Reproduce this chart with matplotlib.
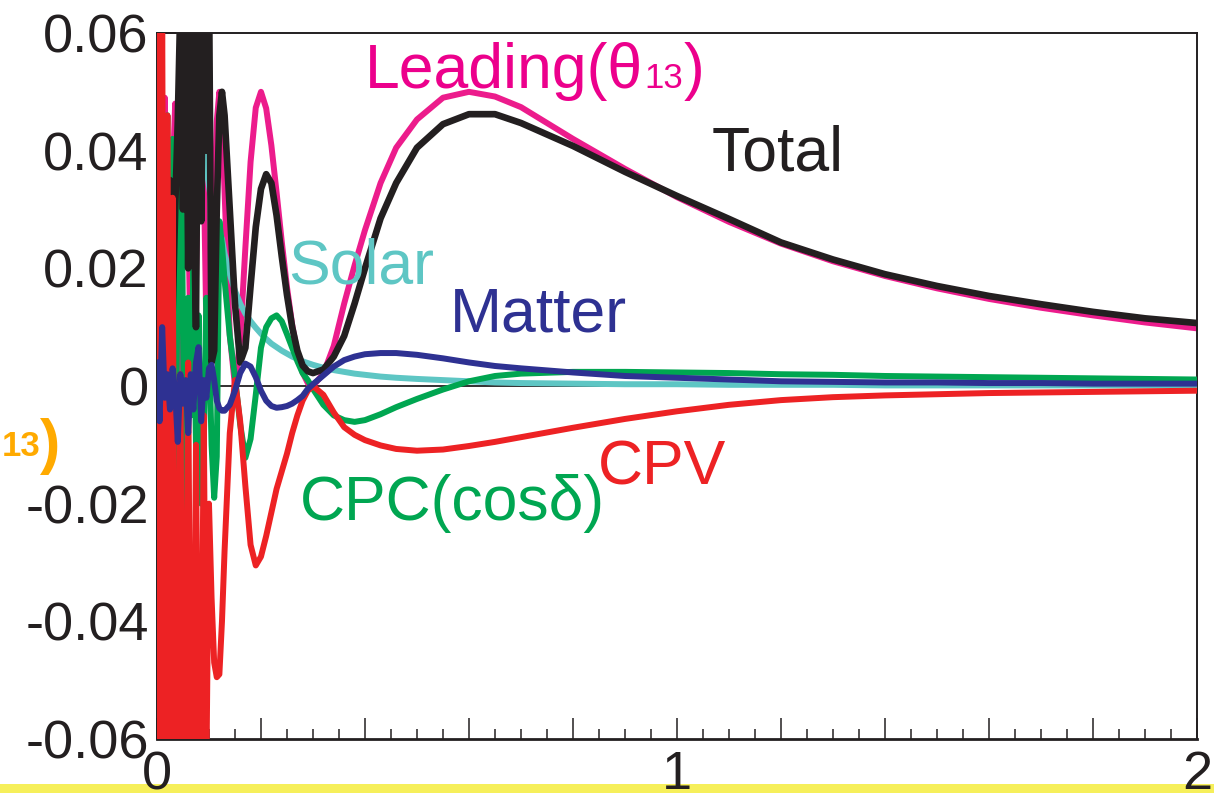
# -*- coding: UTF-8 -*-

import matplotlib
matplotlib.use("Agg")
import matplotlib.pyplot as plt
from matplotlib.pyplot import MultipleLocator
from matplotlib.ticker import FuncFormatter
from matplotlib.patches import Rectangle

plt.rcParams['font.family'] = ['Liberation Sans', 'DejaVu Sans']
plt.rcParams['axes.unicode_minus'] = False

# energy grid: fine and noisy below 0.13, smooth above
energy = [0.000, 0.005, 0.010, 0.015, 0.020, 0.025, 0.030, 0.035, 0.040, 0.045,
          0.050, 0.055, 0.060, 0.065, 0.070, 0.075, 0.080, 0.085, 0.090, 0.095,
          0.100, 0.105, 0.110, 0.115, 0.120, 0.125,
          0.13, 0.14, 0.15, 0.16, 0.17, 0.18, 0.19, 0.20, 0.21, 0.22, 0.23, 0.24,
          0.25, 0.26, 0.27, 0.28, 0.29, 0.30, 0.32, 0.34, 0.36, 0.38, 0.40, 0.43,
          0.46, 0.50, 0.55, 0.60, 0.65, 0.70, 0.80, 0.90, 1.0, 1.1, 1.2, 1.3, 1.4,
          1.5, 1.6, 1.7, 1.8, 1.9, 2.0]

leading = [0.016, 0.040, 0.005, 0.049, 0.021, 0.002, 0.035, 0.048, 0.012, 0.001,
           0.030, 0.050, 0.030, 0.004, 0.002, 0.018, 0.040, 0.050, 0.036, 0.010,
           0.000, 0.010, 0.030, 0.045, 0.050, 0.045,
           0.0330, 0.0087, 0.0000, 0.0079, 0.0235, 0.0381, 0.0473, 0.0500, 0.0472,
           0.0409, 0.0329, 0.0245, 0.0168, 0.0104, 0.0056, 0.0023, 0.0005, 0.0000,
           0.0021, 0.0068, 0.0140, 0.0205, 0.0265, 0.0345, 0.0405, 0.0453, 0.0490,
           0.0500, 0.0492, 0.0474, 0.0420, 0.0369, 0.0321, 0.0279, 0.0242, 0.0212,
           0.0187, 0.0166, 0.0148, 0.0133, 0.0120, 0.0108, 0.0098]

total = [0.015, 0.030, 0.010, 0.040, 0.020, 0.035, 0.012, 0.030, 0.045, 0.065,
         0.030, 0.072, 0.020, 0.070, 0.035, 0.010, 0.072, 0.028, 0.070, 0.040,
         0.070, 0.004, 0.006, 0.030, 0.046, 0.050,
         0.046, 0.030, 0.014, 0.0040, 0.0065, 0.017, 0.027, 0.0335, 0.0360, 0.0345,
         0.029, 0.022, 0.0155, 0.0100, 0.0060, 0.0035, 0.0025, 0.0022, 0.0028,
         0.0050, 0.0085, 0.0140, 0.0200, 0.0285, 0.0345, 0.0405, 0.0445, 0.0462,
         0.0462, 0.0447, 0.0408, 0.0364, 0.0323, 0.0284, 0.0244, 0.0215, 0.0190,
         0.0170, 0.0153, 0.0139, 0.0126, 0.0115, 0.0107]

solar = [0.20, 0.25, 0.12, 0.30, 0.18, 0.10, 0.22, 0.15, 0.12, 0.10,
         0.09, 0.08, 0.072, 0.066, 0.060, 0.055, 0.051, 0.046, 0.042, 0.037,
         0.034, 0.031, 0.029, 0.027, 0.026, 0.025,
         0.0225, 0.0190, 0.0162, 0.0140, 0.0123, 0.0110, 0.0099, 0.0089, 0.0080,
         0.0072, 0.0066, 0.0060, 0.0055, 0.0050, 0.0046, 0.0042, 0.0039, 0.0036,
         0.0031, 0.0027, 0.0024, 0.0021, 0.0019, 0.0016, 0.0014, 0.0012, 0.0010,
         0.0008, 0.0006, 0.0005, 0.0004, 0.0003, 0.0003, 0.0002, 0.0002, 0.0002,
         0.0001, 0.0001, 0.0001, 0.0001, 0.0001, 0.0001, 0.0001]

cpc = [0.000, 0.050, -0.045, 0.030, 0.046, -0.040, 0.042, -0.020, 0.020, 0.0577,
       0.010, -0.030, 0.015, -0.005, 0.020, -0.010, 0.012, -0.020, -0.010, 0.015,
       0.008, -0.010, -0.019, -0.012, 0.028, 0.024,
       0.018, 0.0085, 0.0015, -0.0065, -0.0122, -0.0090, -0.0015, 0.0065, 0.0100,
       0.0115, 0.0120, 0.0110, 0.0088, 0.0065, 0.0042, 0.0022, 0.0010, -0.0005,
       -0.0032, -0.0050, -0.0058, -0.0061, -0.0058, -0.0048, -0.0036, -0.0022,
       -0.0006, 0.0008, 0.0017, 0.0021, 0.0024, 0.0024, 0.0023, 0.0022, 0.0020,
       0.0019, 0.0017, 0.0016, 0.0015, 0.0014, 0.0013, 0.0012, 0.0011]

cpv = [0.065, -0.070, 0.065, -0.070, 0.046, -0.070, 0.032, -0.070, -0.065, 0.002,
       -0.070, -0.062, 0.004, -0.070, -0.070, -0.010, -0.070, -0.065, -0.005, -0.066,
       -0.020, -0.036, -0.047, -0.0495, -0.049, -0.040,
       -0.028, -0.008, 0.001, -0.006, -0.017, -0.027, -0.0305, -0.029, -0.0255,
       -0.0215, -0.0175, -0.0145, -0.0115, -0.0080, -0.0050, -0.0025, -0.0008,
       0.0000, -0.0015, -0.0045, -0.0070, -0.0083, -0.0092, -0.0101, -0.0107,
       -0.0110, -0.0108, -0.0102, -0.0095, -0.0087, -0.0071, -0.0056, -0.0043,
       -0.0032, -0.0024, -0.0019, -0.0016, -0.0014, -0.0012, -0.0011, -0.0010,
       -0.0009, -0.0008]

matter = [0.004, -0.006, 0.010, -0.002, 0.002, -0.004, 0.003, -0.001, -0.0095, 0.002,
          -0.003, 0.001, -0.008, 0.002, -0.004, 0.004, 0.0066, -0.006, 0.001, -0.002,
          0.003, 0.0036, 0.001, -0.0025, -0.0038, -0.0042,
          -0.0042, -0.0032, -0.0008, 0.0022, 0.0038, 0.0033, 0.0015, -0.0008, -0.0025,
          -0.0034, -0.0037, -0.0036, -0.0034, -0.0030, -0.0024, -0.0017, -0.0005,
          0.0003, 0.0018, 0.0033, 0.0044, 0.0050, 0.0054, 0.0056, 0.0056, 0.0053,
          0.0047, 0.0040, 0.0034, 0.0030, 0.0023, 0.0017, 0.0014, 0.0011, 0.0008,
          0.0007, 0.0006, 0.0006, 0.0005, 0.0005, 0.0004, 0.0004, 0.0004]

# name: (values, colour, zorder)
curves = {
    "Leading": (leading, "#ec1c8c", 2),
    "Solar": (solar, "#5ec6c4", 3),
    "CPC": (cpc, "#00a651", 4),
    "Total": (total, "#231f20", 5),
    "CPV": (cpv, "#ed2224", 6),
    "Matter": (matter, "#2e3192", 7),
}

# each label is a list of (text, size) pieces sharing one baseline
labels = [
    ([("Leading(θ", 45), ("13", 25), (")", 45)], 0.400, 0.0507, "#ec008c"),
    ([("Total", 45)], 1.067, 0.0367, "#231f20"),
    ([("Solar", 45)], 0.252, 0.0175, "#5ec6c4"),
    ([("Matter", 45)], 0.563, 0.0092, "#2e3192"),
    ([("CPV", 45)], 0.848, -0.0168, "#ed2224"),
    ([("CPC(cosδ)", 45)], 0.275, -0.0228, "#00a651"),
]


def main():
    fig = plt.figure(figsize=(12.14, 7.93), dpi=100)
    ax = fig.add_axes([0.1293, 0.0681, 0.8567, 0.8903])

    ax.axhline(0, color="#231f20", lw=1.3, zorder=1)
    for name in curves:
        vals, col, z = curves[name]
        lw = 4.8 if name == "Total" else 4.3
        ax.plot(energy, vals, color=col, lw=lw, zorder=z)

    ax.set_xlim(0, 2)
    ax.set_ylim(-0.06, 0.06)

    ax.xaxis.set_major_locator(MultipleLocator(0.2))
    ax.xaxis.set_minor_locator(MultipleLocator(0.05))
    ax.yaxis.set_major_locator(MultipleLocator(0.02))
    ax.yaxis.set_minor_locator(MultipleLocator(0.005))
    ax.xaxis.set_major_formatter(FuncFormatter(
        lambda v, p: "%d" % round(v) if abs(v - round(v)) < 1e-6 else ""))
    ax.yaxis.set_major_formatter(FuncFormatter(lambda v, p: "%g" % round(v, 3)))

    ax.tick_params(axis="x", which="major", direction="in", length=15, width=1.1,
                   labelsize=39, pad=8, colors="#231f20")
    ax.tick_params(axis="x", which="minor", direction="in", length=7, width=1.1,
                   colors="#231f20")
    ax.tick_params(axis="y", which="major", direction="in", length=14, width=1.1,
                   labelsize=39, pad=6, colors="#231f20")
    ax.tick_params(axis="y", which="minor", direction="in", length=6, width=1.1,
                   colors="#231f20")
    for s in ax.spines.values():
        s.set_color("#231f20")
        s.set_linewidth(1.4)
    ax.spines["bottom"].set_linewidth(2.0)

    # curve labels, pieces laid end to end on the baseline
    fig.canvas.draw()
    renderer = fig.canvas.get_renderer()
    for pieces, x, y, col in labels:
        xd = x
        for txt, size in pieces:
            t = ax.text(xd, y, txt, color=col, fontsize=size, ha="left",
                        va="baseline", zorder=8)
            bb = t.get_window_extent(renderer)
            xd = ax.transData.inverted().transform((bb.x1 + 1, 0))[0]

    # bits of the neighbouring slide: orange subscript and yellow highlight
    fig.text(40 / 1214, 1 - 456 / 793, "13", color="#ffaa00", fontsize=25,
             fontweight="bold", ha="right", va="baseline")
    fig.text(40 / 1214, 1 - 462 / 793, ")", color="#ffaa00", fontsize=44,
             fontweight="bold", ha="left", va="baseline")
    fig.patches.append(Rectangle((0, 0), 1, 9 / 793, transform=fig.transFigure,
                                 facecolor="#f6ef5a", edgecolor="none", zorder=-1))

    fig.savefig("out.png", dpi=100)


main()
